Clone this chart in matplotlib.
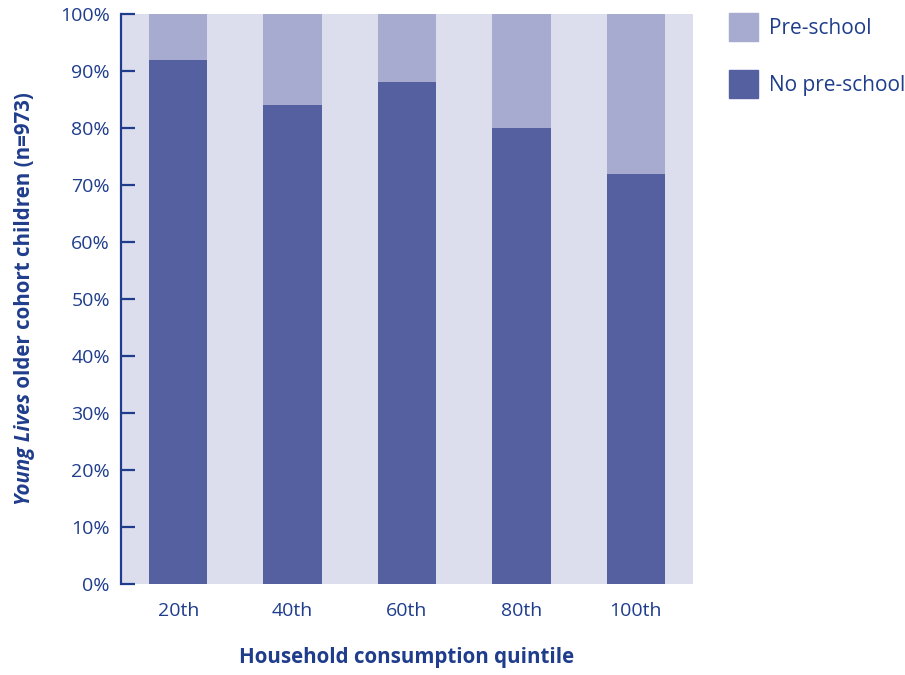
import numpy as np
import matplotlib.pyplot as plt
from matplotlib.patches import Patch

quintiles = ['20th', '40th', '60th', '80th', '100th']
no_preschool = [92, 84, 88, 80, 72]
preschool = [100 - v for v in no_preschool]

txt = '#1f3d8c'
dark = '#5560a0'
light = '#a8abd0'
bg = '#dcdeed'

plt.rcParams['font.family'] = ['Open Sans', 'DejaVu Sans']

fig = plt.figure(figsize=(9.05, 6.75), dpi=100)
ax = fig.add_axes([0.1337, 0.1348, 0.632, 0.8444])
ax.set_facecolor(bg)

x = np.arange(len(quintiles))
ax.bar(x, no_preschool, width=0.51, color=dark, label='No pre-school')
ax.bar(x, preschool, bottom=no_preschool, width=0.51, color=light, label='Pre-school')

ax.set_xlim(-0.5, 4.5)
ax.set_ylim(0, 100)
ax.set_yticks(range(0, 101, 10))
ax.set_yticklabels([f'{v}%' for v in range(0, 101, 10)])
ax.set_xticks(x)
ax.set_xticklabels(quintiles)

for s in ['top', 'right', 'bottom']:
    ax.spines[s].set_visible(False)
ax.spines['left'].set_color(txt)
ax.spines['left'].set_linewidth(1.6)
ax.tick_params(axis='y', direction='in', length=10, width=1.6, color=txt,
               labelcolor=txt, labelsize=14, pad=8)
ax.tick_params(axis='x', length=0, labelcolor=txt, labelsize=14, pad=13)

handles = [Patch(color=light, label='Pre-school'), Patch(color=dark, label='No pre-school')]
ax.legend(handles=handles, loc='upper left', bbox_to_anchor=(1.063, 1.002), frameon=False,
          fontsize=15, labelcolor=txt, handlelength=1.4, handleheight=1.7,
          labelspacing=1.4, handletextpad=0.5, borderpad=0, borderaxespad=0)

fig.text(0.449, 0.01, 'Household consumption quintile', ha='center', va='bottom',
         fontsize=14.8, fontweight='bold', color=txt)

# y label with italic part
t1 = fig.text(0.027, 0.252, 'Young Lives', rotation=90, ha='center', va='bottom',
              fontsize=14.8, fontweight='bold', fontstyle='italic', color=txt)
fig.canvas.draw()
bb = t1.get_window_extent(fig.canvas.get_renderer())
top = bb.y1 / fig.bbox.height
fig.text(0.027, top, ' older cohort children (n=973)', rotation=90, ha='center',
         va='bottom', fontsize=14.8, fontweight='bold', color=txt)

fig.savefig('out.png', dpi=100)
